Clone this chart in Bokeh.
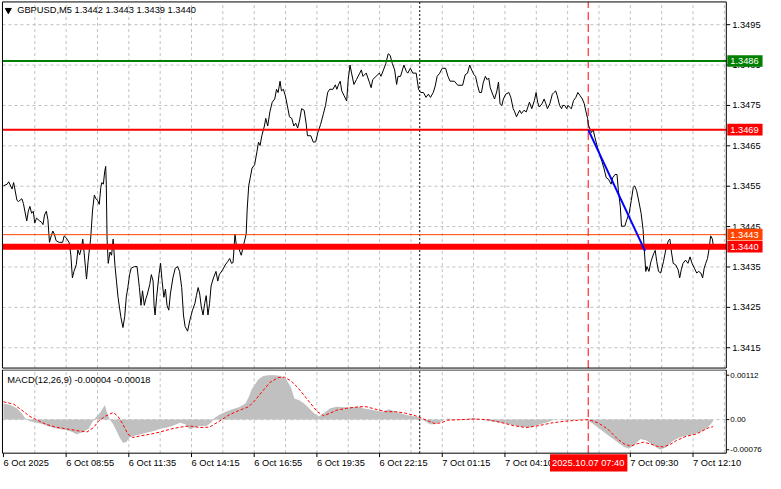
from bokeh.plotting import figure
from bokeh.models import Range1d
from bokeh.core.properties import value
from bokeh.layouts import column
from bokeh.embed import file_html
from bokeh.resources import INLINE

# ---------------- data ----------------
close_bars = [
    0, 1.9, 2.7, 4.4, 5.2, 6.9, 7.7, 9.4, 10.2, 11.9,
    12.7, 13.5, 14.4, 15.2, 16, 16.9, 18.5, 19.4, 20.2, 21,
    21.9, 22.7, 23.5, 24.4, 25.2, 26, 26.9, 28.5, 30.2, 31,
    31.9, 33.5, 34.4, 35.2, 36, 37.2, 38, 38.9, 39.9, 40.5,
    41, 41.9, 42.4, 43.2, 43.9, 44.5, 45.5, 46.4, 47.2, 48,
    48.9, 49.7, 50.2, 51, 51.7, 52.2, 52.5, 52.9, 53.5, 54.4,
    55.2, 56, 56.9, 57.7, 58.5, 59.9, 61, 61.9, 62.7, 63.5,
    64.4, 65.2, 66.9, 68.2, 69.4, 70.2, 71, 71.9, 72.7, 73.5,
    74.7, 75.5, 76.4, 76.9, 77.4, 78.2, 79.4, 80.2, 81, 81.9,
    82.7, 83.5, 84.4, 85.2, 86.5, 87.7, 88.9, 89.9, 91, 91.9,
    92.7, 94, 95.2, 96.5, 97.7, 98.5, 99.4, 100.2, 101, 101.9,
    102.7, 103.5, 104.4, 105.2, 106, 107.2, 108.5, 109.4, 110.2, 111.9,
    113.2, 114.4, 115.5, 116.4, 117.2, 118.2, 119, 120.2, 121.4, 122.7,
    123.9, 124.4, 125.2, 126, 126.9, 128.2, 129.4, 130.2, 131, 131.9,
    133.2, 133.9, 134.9, 136, 137.2, 138.5, 139.4, 140.2, 141.2, 141.9,
    142.9, 143.9, 144.9, 146, 147.2, 148.2, 149.2, 150.2, 151.2, 152.2,
    153.5, 154.5, 155.2, 156.9, 158.2, 159.4, 160.5, 161.9, 163.2, 164.4,
    165.5, 166.5, 168.2, 169.4, 170.2, 171, 171.9, 172.7, 173.9, 175.2,
    176, 176.9, 177.7, 178.9, 180.2, 181.9, 182.7, 183.5, 185.2, 186.9,
    187.7, 188.5, 190.2, 191.9, 192.7, 194, 195.2, 196.4, 197.4, 198.5,
    199.7, 200.7, 201.4, 202.7, 204.4, 205.7, 206.4, 207.7, 209, 210.7,
    211.9, 213, 214.4, 215.7, 216.9, 218, 219.4, 220.4, 221.4, 222.7,
    224, 225.7, 226.9, 228, 230.2, 231.9, 234.4, 235.7, 236.9, 238,
    239, 240.2, 241, 241.9, 243, 244, 244.9, 246, 246.9, 247.7,
    248.5, 249.7, 250.7, 251.9, 252.7, 253.5, 254.4, 255.2, 256.4, 258,
    259, 260.2, 261, 261.9, 262.7, 263.5, 264.4, 265.7, 266.9, 267.7,
    268.5, 269.7, 271, 271.9, 272.7, 273.5, 274.9, 276, 276.9, 277.7,
    278.9, 280.2, 281, 281.9, 282.7, 283.9, 284.9, 285.5, 286.5, 287.5,
    288.2, 288.9, 289.9, 291, 292.2, 293.2, 294.4, 295.5, 296.5, 297.2,
    298.2, 298.5, 299.4, 300.2, 301, 301.9, 303.2, 304.4, 305.5, 306.5,
    307.7, 308.9, 310.2, 311, 312.2, 313.2, 313.9, 314.9, 315.5, 317.2,
    318.2, 319.4, 320.5, 321.5, 322.2, 323.2, 324.4, 325.5, 326.5, 327.2,
    327.9, 328.5, 329.5, 330.5, 331.9, 332.7, 333.5, 334.4, 335.5, 336.9,
    338.2, 339.4, 340.2, 341, 341.9, 343.2, 344.4, 345.2, 346, 346.9,
    348.2, 349.4, 350.5, 351.5, 352.7, 353.9, 354.9, 356, 356.9, 357.7,
    358.5, 359.4, 360.2, 361, 361.9, 362.4,
]
close_vals = [
    1.34551, 1.34555, 1.34561, 1.34543, 1.34559, 1.34515, 1.34512, 1.34519, 1.34507, 1.34464,
    1.34488, 1.34500, 1.34483, 1.34488, 1.34459, 1.34471, 1.34464, 1.34461, 1.34455, 1.34479,
    1.34488, 1.34467, 1.34411, 1.34427, 1.34439, 1.34431, 1.34415, 1.34411, 1.34411, 1.34427,
    1.34423, 1.34411, 1.34380, 1.34323, 1.34339, 1.34356, 1.34392, 1.34380, 1.34399, 1.34419,
    1.34395, 1.34347, 1.34320, 1.34363, 1.34395, 1.34419, 1.34491, 1.34528, 1.34519, 1.34515,
    1.34505, 1.34547, 1.34559, 1.34555, 1.34587, 1.34599, 1.34555, 1.34419, 1.34359, 1.34387,
    1.34379, 1.34419, 1.34355, 1.34315, 1.34275, 1.34227, 1.34200, 1.34227, 1.34275, 1.34299,
    1.34331, 1.34347, 1.34351, 1.34351, 1.34299, 1.34255, 1.34291, 1.34255, 1.34271, 1.34283,
    1.34307, 1.34331, 1.34315, 1.34255, 1.34231, 1.34275, 1.34331, 1.34359, 1.34315, 1.34275,
    1.34295, 1.34255, 1.34243, 1.34283, 1.34323, 1.34347, 1.34351, 1.34339, 1.34299, 1.34231,
    1.34203, 1.34191, 1.34219, 1.34243, 1.34259, 1.34279, 1.34299, 1.34283, 1.34251, 1.34231,
    1.34259, 1.34279, 1.34231, 1.34259, 1.34303, 1.34323, 1.34339, 1.34315, 1.34331, 1.34343,
    1.34355, 1.34363, 1.34371, 1.34359, 1.34361, 1.34431, 1.34399, 1.34395, 1.34379, 1.34407,
    1.34431, 1.34491, 1.34551, 1.34571, 1.34595, 1.34603, 1.34635, 1.34659, 1.34651, 1.34675,
    1.34699, 1.34718, 1.34699, 1.34734, 1.34758, 1.34766, 1.34790, 1.34782, 1.34810, 1.34786,
    1.34790, 1.34774, 1.34750, 1.34722, 1.34718, 1.34699, 1.34706, 1.34694, 1.34714, 1.34742,
    1.34738, 1.34706, 1.34675, 1.34675, 1.34659, 1.34660, 1.34683, 1.34703, 1.34727, 1.34750,
    1.34782, 1.34790, 1.34790, 1.34801, 1.34790, 1.34801, 1.34810, 1.34786, 1.34774, 1.34761,
    1.34814, 1.34850, 1.34830, 1.34802, 1.34814, 1.34830, 1.34838, 1.34822, 1.34830, 1.34806,
    1.34794, 1.34814, 1.34822, 1.34830, 1.34822, 1.34838, 1.34854, 1.34878, 1.34874, 1.34854,
    1.34838, 1.34802, 1.34822, 1.34822, 1.34850, 1.34834, 1.34830, 1.34842, 1.34830, 1.34830,
    1.34790, 1.34782, 1.34782, 1.34770, 1.34778, 1.34770, 1.34782, 1.34798, 1.34822, 1.34830,
    1.34842, 1.34842, 1.34822, 1.34810, 1.34810, 1.34800, 1.34800, 1.34826, 1.34830, 1.34850,
    1.34838, 1.34826, 1.34822, 1.34802, 1.34782, 1.34782, 1.34806, 1.34822, 1.34814, 1.34818,
    1.34794, 1.34778, 1.34766, 1.34786, 1.34808, 1.34754, 1.34750, 1.34766, 1.34778, 1.34782,
    1.34770, 1.34742, 1.34734, 1.34722, 1.34730, 1.34738, 1.34730, 1.34738, 1.34734, 1.34746,
    1.34758, 1.34742, 1.34762, 1.34782, 1.34758, 1.34746, 1.34754, 1.34766, 1.34754, 1.34742,
    1.34754, 1.34778, 1.34782, 1.34786, 1.34774, 1.34750, 1.34742, 1.34750, 1.34750, 1.34742,
    1.34750, 1.34746, 1.34742, 1.34762, 1.34770, 1.34782, 1.34774, 1.34766, 1.34754, 1.34738,
    1.34718, 1.34703, 1.34691, 1.34683, 1.34691, 1.34671, 1.34647, 1.34627, 1.34611, 1.34595,
    1.34571, 1.34567, 1.34555, 1.34571, 1.34579, 1.34579, 1.34539, 1.34499, 1.34451, 1.34451,
    1.34467, 1.34483, 1.34515, 1.34547, 1.34551, 1.34539, 1.34511, 1.34483, 1.34443, 1.34387,
    1.34339, 1.34351, 1.34339, 1.34363, 1.34383, 1.34391, 1.34363, 1.34339, 1.34335, 1.34363,
    1.34395, 1.34415, 1.34419, 1.34387, 1.34359, 1.34355, 1.34343, 1.34323, 1.34343, 1.34359,
    1.34367, 1.34359, 1.34375, 1.34359, 1.34347, 1.34335, 1.34339, 1.34335, 1.34323, 1.34347,
    1.34359, 1.34371, 1.34395, 1.34427, 1.34419, 1.34400,
]

macd_bars = [
    0, 3.5, 6.8, 9.3, 11, 13.5, 16.8, 20.2, 23.5, 27.7,
    31.8, 35.2, 37.2, 40.2, 43.5, 45.2, 46.8, 48.5, 50.2, 51.8,
    52.7, 54.3, 56, 57.7, 59.3, 61, 62.7, 64.3, 66.8, 70.2,
    73.5, 76.8, 80.2, 83.5, 86.8, 90.2, 92.7, 95.2, 97.7, 100.2,
    103.5, 106, 107.7, 110.2, 113.5, 116.8, 120.2, 123.5, 125.2, 126.8,
    128.5, 130.2, 132.7, 135.2, 138.5, 141.8, 144.3, 146.8, 148.5, 151,
    153.5, 156, 158.5, 161, 163.5, 166.8, 170.2, 173.5, 176.8, 181.8,
    183.5, 188.5, 193.5, 196.8, 200.2, 205.2, 210.2, 212.7, 215.2, 217.7,
    220.2, 223.5, 226.8, 231.8, 236.8, 240.2, 243.5, 248.5, 253.5, 258.5,
    263.5, 268.5, 271.8, 276.8, 281.8, 286.8, 293.5, 296.8, 300.2, 303.5,
    306.8, 310.2, 313.5, 316.8, 319.3, 321.8, 325.2, 328.5, 331.8, 335.2,
    338.5, 341.8, 345.2, 348.5, 351.8, 355.2, 358.5, 361, 362.2,
]
macd_vals = [
    0.000407, 0.000366, 0.000285, 0.000163, 0.00004, -0.00004, -0.00008, -0.00012, -0.00018, -0.00023,
    -0.00026, -0.00031, -0.00037, -0.000325, -0.00023, -0.00008, 0.00004, 0.00012, 0.00024, 0.000366,
    0.0002, 0.0, -0.00012, -0.000285, -0.00045, -0.000585, -0.00057, -0.00045, -0.000407, -0.000366,
    -0.000325, -0.000285, -0.00023, -0.0002, -0.00015, -0.00008, -0.00012, -0.00024, -0.0002, -0.00016,
    -0.00016, -0.00008, 0.00004, 0.00012, 0.0002, 0.00026, 0.00031, 0.000407, 0.00057, 0.00077,
    0.00089, 0.00102, 0.0011, 0.00112, 0.00112, 0.0011, 0.00102, 0.00081, 0.00053, 0.00049,
    0.000407, 0.000285, 0.000163, 0.00008, 0.000163, 0.000285, 0.000325, 0.00031, 0.00031, 0.000325,
    0.000285, 0.00024, 0.0002, 0.00026, 0.0002, 0.00012, 0.00008, 0.00004, -0.00004, -0.00012,
    -0.00012, -0.00004, 0.000025, 0.0, 0.000015, 0.00004, 0.0, -0.00004, -0.00008, -0.00012,
    -0.00018, -0.0002, -0.00015, -0.00008, 0.0, -0.000015, 0.0, 0.0, -0.00008, -0.0002,
    -0.000325, -0.00045, -0.00057, -0.00069, -0.00073, -0.00065, -0.00049, -0.00053, -0.00065, -0.00076,
    -0.00069, -0.00053, -0.00045, -0.000407, -0.000366, -0.000325, -0.00024, -0.00012, -0.00004,
]

signal_bars = [
    0, 5.2, 9.3, 13.5, 16.8, 21.8, 26.8, 31.8, 38.5, 42.7,
    46, 48.5, 51.8, 56, 58.5, 61, 63.5, 66, 70.2, 75.2,
    80.2, 85.2, 90.2, 95.2, 100.2, 105.2, 110.2, 115.2, 120.2, 125.2,
    128.5, 131.8, 136, 140.2, 143.5, 146.8, 150.2, 153.5, 156.8, 160.2,
    163.5, 166.8, 170.2, 175.2, 181.8, 185.2, 190.2, 195.2, 200.2, 205.2,
    210.2, 215.2, 220.2, 223.5, 226.8, 233.5, 240.2, 246.8, 253.5, 260.2,
    266.8, 273.5, 280.2, 286.8, 293.5, 298.5, 303.5, 308.5, 313.5, 316.8,
    320.2, 323.5, 326.8, 330.2, 333.5, 336.8, 340.2, 343.5, 348.5, 353.5,
    356.8, 360.2, 362.2,
]
signal_vals = [
    0.00045, 0.00039, 0.00024, 0.00008, 0.0, -0.00012, -0.00019, -0.00023, -0.000285, -0.00031,
    -0.0002, -0.00004, 0.00008, 0.00018, 0.00008, -0.00012, -0.000366, -0.00045, -0.000407, -0.000366,
    -0.00031, -0.00024, -0.00019, -0.00016, -0.0002, -0.00019, -0.00004, 0.00012, 0.00023, 0.000325,
    0.00049, 0.00069, 0.000935, 0.00106, 0.00107, 0.000975, 0.00081, 0.00061, 0.000407, 0.0002,
    0.000098, 0.000163, 0.00024, 0.000285, 0.000325, 0.000325, 0.00026, 0.0002, 0.0002, 0.000163,
    0.0001, 0.0, -0.0001, -0.00008, -0.000015, 0.0, 0.000015, 0.0, -0.000065, -0.00015,
    -0.0002, -0.00015, -0.00008, -0.00004, -0.000015, 0.0, -0.00008, -0.00024, -0.00049, -0.00061,
    -0.00067, -0.00061, -0.00057, -0.00061, -0.00067, -0.00069, -0.00063, -0.00053, -0.00042, -0.000366,
    -0.000285, -0.0002, -0.00018,
]

level_prices = [1.3486, 1.3469, 1.3443, 1.3440]
level_colors = ["#008000", "#FF0000", "#FF4500", "#FF0000"]
level_widths = [2, 2, 1, 6]
level_labels = ["1.3486", "1.3469", "1.3443", "1.3440"]
trend_bars = [298.5, 327.5]
trend_vals = [1.3469, 1.3439]
separator_bar = 212.5
cross_bar = 298.5

price_ticks = [1.3415, 1.3425, 1.3435, 1.3445, 1.3455, 1.3465, 1.3475, 1.3485, 1.3495]
price_tick_labels = ["1.3415", "1.3425", "1.3435", "1.3445", "1.3455", "1.3465", "1.3475",
                     "1.3485", "1.3495"]
macd_ticks = [-0.00076, 0.0, 0.00112]
macd_tick_labels = ["-0.00076", "0.00", "0.00112"]
grid_bars = [16, 32, 48, 64, 80, 96, 112, 128, 144, 160, 176, 192, 208, 224, 240, 256, 272,
             288, 304, 320, 336, 352, 368]
time_tick_bars = [0, 32, 64, 96, 128, 160, 192, 224, 256, 320, 352]
time_tick_labels = ["6 Oct 2025", "6 Oct 08:55", "6 Oct 11:35", "6 Oct 14:15", "6 Oct 16:55",
                    "6 Oct 19:35", "6 Oct 22:15", "7 Oct 01:15", "7 Oct 04:10", "7 Oct 09:30",
                    "7 Oct 12:10"]
header_text = "GBPUSD,M5  1.3442 1.3443 1.3439 1.3440"
macd_text = "MACD(12,26,9) -0.00004 -0.00018"
cross_text = "2025.10.07 07:40"

# ---------------- layout helpers (original-chart pixel -> data) ----------------
def bx(px):
    return (px - 3) / 2.0

def py(px):
    return 1.3495 - (px - 25) / 41750.0

def my(px):
    return (433.3 - px) / 41000.0

FONT = value("Liberation Sans")
FS = value("9.3px")
FS_MACD = value("8px")
GRID = "#C0C0C0"
L, R = bx(2), bx(741)
T1, B1 = py(1.5), py(380)
T2, B2 = my(382), my(468)


def make_fig(h, y_range):
    p = figure(width=765, height=h, x_range=Range1d(bx(0), bx(781)), y_range=y_range,
               output_backend="svg", toolbar_location=None, x_axis_location=None,
               y_axis_location=None, min_border=0, outline_line_color=None,
               background_fill_color="white", border_fill_color="white")
    p.grid.visible = False
    return p


p1 = make_fig(369, Range1d(py(381.5), py(0)))
p2 = make_fig(104, Range1d(my(489), my(381.5)))

# ---- upper panel ----
n = len(grid_bars)
p1.segment(x0=grid_bars, y0=[B1] * n, x1=grid_bars, y1=[T1] * n, line_color=GRID,
           line_dash="3 3", line_width=1)
m = len(price_ticks)
p1.segment(x0=[L] * m, y0=price_ticks, x1=[R] * m, y1=price_ticks, line_color=GRID,
           line_dash="3 3", line_width=1)
p1.segment(x0=[separator_bar], y0=[B1], x1=[separator_bar], y1=[T1], line_color="black",
           line_dash="2 2", line_width=1)
p1.segment(x0=[cross_bar], y0=[B1], x1=[cross_bar], y1=[T1], line_color="red",
           line_dash="8 4", line_width=1)
p1.line(close_bars, close_vals, line_color="black", line_width=1)
k = len(level_prices)
p1.segment(x0=[L] * k, y0=level_prices, x1=[R] * k, y1=level_prices, line_color=level_colors,
           line_width=level_widths, line_cap="butt")
p1.line(trend_bars, trend_vals, line_color="#0000FF", line_width=2)

# right price scale
p1.segment(x0=[R] * m, y0=price_ticks, x1=[bx(745)] * m, y1=price_ticks, line_color="black")
p1.text(x=[bx(747)] * m, y=price_ticks, text=price_tick_labels, text_font=FONT,
        text_font_size=FS, text_color="black", text_align="left", text_baseline="middle")
half = 6 / 41750.0
p1.quad(left=[bx(742)] * k, right=[bx(778)] * k, top=[v + half for v in level_prices],
        bottom=[v - half for v in level_prices], fill_color=level_colors, line_color=None)
p1.text(x=[bx(745)] * k, y=level_prices, text=level_labels, text_font=FONT, text_font_size=FS,
        text_color="white", text_align="left", text_baseline="middle")

# header
p1.scatter(x=[bx(8)], y=[py(10)], marker="inverted_triangle", size=6, color="black")
p1.text(x=[bx(17)], y=[py(10)], text=[header_text], text_font=FONT, text_font_size=FS,
        text_color="black", text_align="left", text_baseline="middle")

p1.quad(left=[L], right=[R], top=[T1], bottom=[B1], fill_color=None, line_color="black")

# ---- MACD panel ----
p2.segment(x0=grid_bars, y0=[B2] * n, x1=grid_bars, y1=[T2] * n, line_color=GRID,
           line_dash="3 3", line_width=1)
p2.segment(x0=[L], y0=[0], x1=[R], y1=[0], line_color=GRID, line_dash="3 3", line_width=1)
p2.varea(x=macd_bars, y1=0, y2=macd_vals, fill_color="#C0C0C0")
p2.line(signal_bars, signal_vals, line_color="red", line_width=1, line_dash="3 2")
p2.segment(x0=[separator_bar], y0=[B2], x1=[separator_bar], y1=[T2], line_color="black",
           line_dash="2 2", line_width=1)
p2.segment(x0=[cross_bar], y0=[B2], x1=[cross_bar], y1=[T2], line_color="red",
           line_dash="8 4", line_width=1)

q = len(macd_ticks)
p2.segment(x0=[R] * q, y0=macd_ticks, x1=[bx(744)] * q, y1=macd_ticks, line_color="black")
p2.text(x=[bx(745)] * q, y=macd_ticks, text=macd_tick_labels, text_font=FONT,
        text_font_size=FS_MACD, text_color="black", text_align="left", text_baseline="middle")
p2.text(x=[bx(7)], y=[my(392)], text=[macd_text], text_font=FONT, text_font_size=FS,
        text_color="black", text_align="left", text_baseline="middle")

# time scale
t = len(time_tick_bars)
p2.segment(x0=time_tick_bars, y0=[B2] * t, x1=time_tick_bars, y1=[my(472)] * t,
           line_color="black")
p2.text(x=time_tick_bars, y=[my(478)] * t, text=time_tick_labels, text_font=FONT,
        text_font_size=FS, text_color="black", text_align="left", text_baseline="middle")
p2.quad(left=[bx(561)], right=[bx(640)], top=[my(469)], bottom=[my(487)],
        fill_color="#FF0000", line_color=None)
p2.text(x=[cross_bar], y=[my(478)], text=[cross_text], text_font=FONT, text_font_size=FS,
        text_color="white", text_align="center", text_baseline="middle")

p2.quad(left=[L], right=[R], top=[T2], bottom=[B2], fill_color=None, line_color="black")

layout = column(p1, p2, spacing=0)
open("out.html", "w").write(file_html(layout, INLINE))
